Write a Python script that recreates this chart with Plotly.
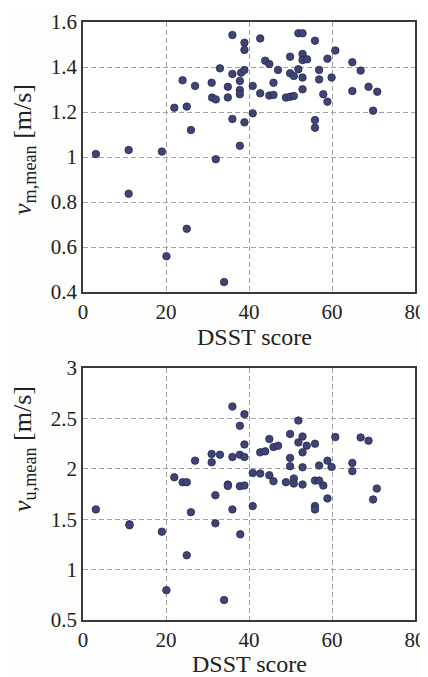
import plotly.graph_objects as go

# ---- data ----
dsst_m = [3.1, 11.0, 11.0, 19.0, 20.1, 22.0, 24.0, 25.0, 25.0, 26.0, 27.0, 31.0, 31.1,
          32.0, 32.0, 33.0, 34.0, 34.9, 34.9, 36.0, 36.0, 36.0, 37.8, 37.8, 37.8, 37.8,
          38.1, 38.9, 38.9, 38.9, 38.9, 40.9, 40.9, 42.7, 42.7, 43.9, 44.9, 44.9, 45.9,
          45.9, 47.0, 48.9, 49.9, 49.9, 49.9, 50.8, 50.8, 51.9, 51.9, 52.9, 52.9, 52.9,
          52.9, 52.9, 54.0, 55.9, 55.9, 55.9, 56.9, 56.9, 57.9, 58.9, 58.9, 59.9, 60.8,
          64.9, 64.9, 66.9, 68.8, 69.9, 70.9]
v_m_mean = [1.013, 1.031, 0.837, 1.024, 0.559, 1.219, 1.341, 1.224, 0.681, 1.120, 1.316,
            1.330, 1.264, 1.256, 0.990, 1.394, 0.444, 1.312, 1.265, 1.542, 1.369, 1.169,
            1.338, 1.298, 1.279, 1.050, 1.375, 1.508, 1.476, 1.387, 1.154, 1.316, 1.194,
            1.527, 1.283, 1.428, 1.413, 1.273, 1.330, 1.276, 1.387, 1.264, 1.446, 1.372,
            1.268, 1.360, 1.271, 1.550, 1.390, 1.550, 1.458, 1.431, 1.353, 1.301, 1.434,
            1.517, 1.164, 1.130, 1.387, 1.345, 1.279, 1.437, 1.246, 1.353, 1.473, 1.421,
            1.293, 1.384, 1.312, 1.206, 1.290]

dsst_u = [3.1, 11.2, 11.2, 19.0, 20.1, 22.0, 24.0, 25.0, 25.0, 26.0, 27.0, 31.0, 31.0,
          31.9, 31.9, 33.0, 34.0, 34.9, 34.9, 36.0, 36.0, 36.0, 37.8, 37.8, 37.8, 37.9,
          38.9, 38.9, 38.9, 38.9, 40.9, 40.9, 42.7, 42.7, 43.9, 44.9, 44.9, 45.9, 45.9,
          47.0, 48.9, 49.9, 49.9, 49.9, 50.8, 50.8, 51.9, 51.9, 52.9, 52.9, 52.9, 52.9,
          53.9, 55.9, 55.9, 55.9, 55.9, 56.9, 56.9, 57.9, 58.9, 58.9, 59.9, 60.8, 64.9,
          64.9, 66.9, 68.8, 69.9, 70.8]
v_u_mean = [1.597, 1.449, 1.440, 1.376, 0.796, 1.916, 1.867, 1.867, 1.142, 1.570, 2.081,
            2.147, 2.064, 1.738, 1.459, 2.140, 0.698, 1.844, 1.830, 2.618, 2.117, 1.597,
            2.427, 2.140, 1.828, 1.350, 2.542, 2.242, 2.117, 1.834, 1.959, 1.630, 2.163,
            1.953, 2.173, 2.295, 1.936, 2.216, 1.877, 2.229, 1.867, 2.345, 2.107, 2.025,
            1.903, 1.854, 2.479, 2.262, 2.321, 2.163, 2.015, 1.844, 2.229, 2.249, 1.883,
            1.630, 1.597, 2.032, 1.883, 1.834, 2.081, 1.706, 2.019, 2.315, 2.058, 1.976,
            2.311, 2.279, 1.696, 1.804]

x_ticks = [0, 20, 40, 60, 80]
y_ticks_m = [0.4, 0.6, 0.8, 1.0, 1.2, 1.4, 1.6]
y_ticks_u = [0.5, 1.0, 1.5, 2.0, 2.5, 3.0]

x_title = "DSST score"
y_title_m = "<i>v</i><sub>m,mean</sub> [m/s]"
y_title_u = "<i>v</i><sub>u,mean</sub> [m/s]"

# ---- figure ----
# the page body has an 8px default margin, so the figure is 8px smaller than the window
OFF = 8
W, H = 428 - OFF, 677 - OFF
marker = dict(size=7.5, color="#3e4476", line=dict(color="#262a50", width=0.8))

fig = go.Figure()
fig.add_trace(go.Scatter(x=dsst_m, y=v_m_mean, mode="markers", marker=marker,
                         xaxis="x", yaxis="y", showlegend=False))
fig.add_trace(go.Scatter(x=dsst_u, y=v_u_mean, mode="markers", marker=marker,
                         xaxis="x2", yaxis="y2", showlegend=False))

font_family = "'Liberation Serif', 'Times New Roman', Times, serif"
tick_font = dict(family=font_family, size=21, color="#222222")
xtitle_font = dict(family=font_family, size=24, color="#222222")
ytitle_font = dict(family=font_family, size=26, color="#222222")


def px_x(v):
    return (v - OFF) / W


def px_y(v):
    return 1 - (v - OFF) / H


grid = dict(showgrid=True, gridcolor="#a3a3a3", griddash="5px,3px", gridwidth=1,
            zeroline=False, showline=True, linecolor="#3a3a3a", linewidth=1.5,
            mirror=True, ticks="", tickfont=tick_font, automargin=False,
            ticklabeloverflow="allow")


def xax(domain, anchor):
    return dict(domain=domain, anchor=anchor, range=[0, 80], tickvals=x_ticks, **grid)


def yax(domain, anchor, rng, tv):
    return dict(domain=domain, anchor=anchor, range=rng, tickvals=tv, **grid)


annotations = [
    dict(text=x_title, x=px_x(254), y=px_y(337), xref="paper", yref="paper",
         xanchor="center", yanchor="middle", showarrow=False, font=xtitle_font,
         borderpad=0),
    dict(text=x_title, x=px_x(250), y=px_y(664), xref="paper", yref="paper",
         xanchor="center", yanchor="middle", showarrow=False, font=xtitle_font,
         borderpad=0),
    dict(text=y_title_m, x=px_x(24), y=px_y(150), xref="paper", yref="paper",
         xanchor="center", yanchor="middle", textangle=-90, showarrow=False,
         font=ytitle_font, borderpad=0),
    dict(text=y_title_u, x=px_x(24), y=px_y(449), xref="paper", yref="paper",
         xanchor="center", yanchor="middle", textangle=-90, showarrow=False,
         font=ytitle_font, borderpad=0),
]

fig.update_layout(
    width=W, height=H,
    margin=dict(l=0, r=0, t=0, b=0, autoexpand=False),
    paper_bgcolor="#fdfdfb",
    plot_bgcolor="#ffffff",
    font=dict(family=font_family),
    xaxis=xax([px_x(83), px_x(415)], "y"),
    yaxis=yax([px_y(292), px_y(22)], "x", [0.4, 1.6], y_ticks_m),
    xaxis2=xax([px_x(83), px_x(415)], "y2"),
    yaxis2=yax([px_y(620), px_y(368)], "x2", [0.5, 3.0], y_ticks_u),
    annotations=annotations,
)

fig.write_html("out.html")
